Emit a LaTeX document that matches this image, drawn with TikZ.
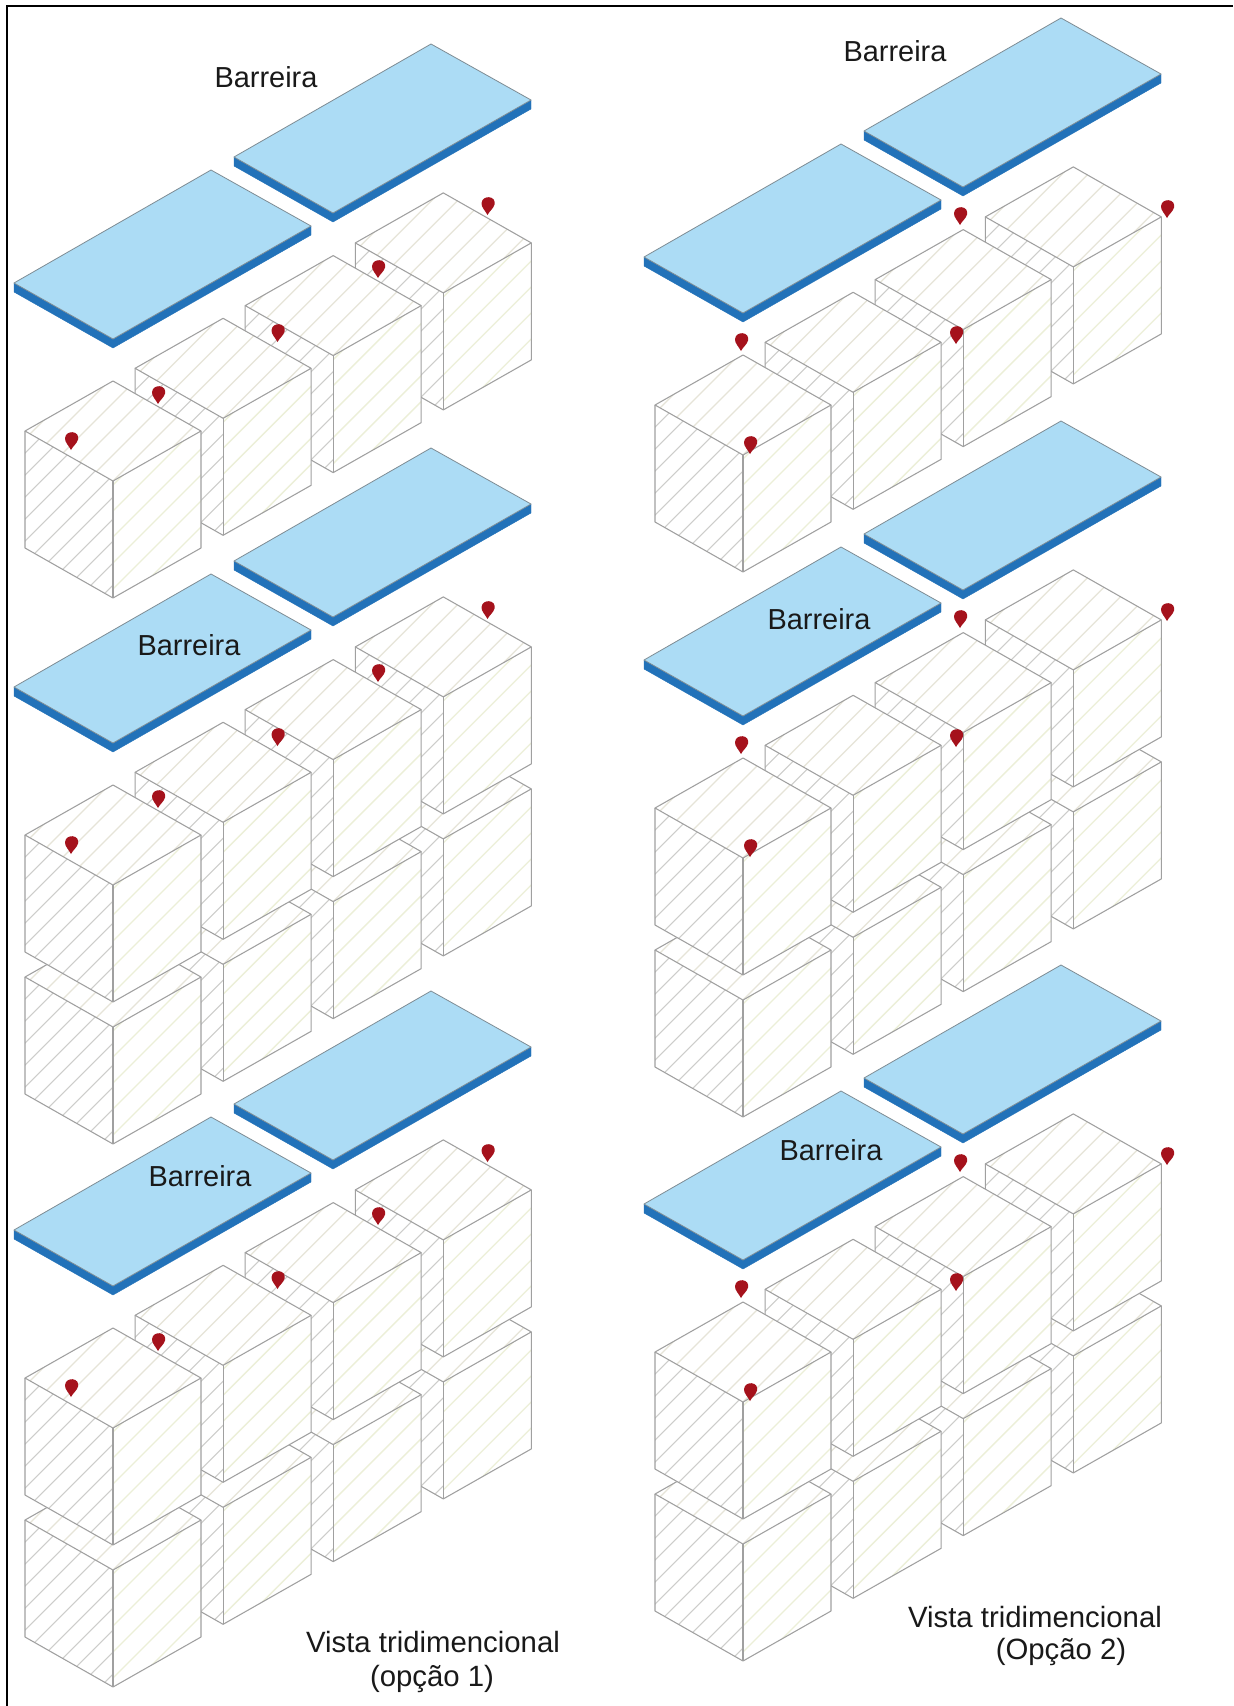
\documentclass[tikz,border=0pt]{standalone}
\usepackage{fontspec}
\setmainfont{Liberation Sans}
\definecolor{slabtop}{HTML}{ACDCF5}
\definecolor{slabside}{HTML}{2272B9}
\definecolor{slabline}{HTML}{7E8C94}
\definecolor{cubeline}{HTML}{A0A0A0}
\definecolor{hatchleft}{HTML}{CDCDCB}
\definecolor{hatchtop}{HTML}{E6E4D8}
\definecolor{hatchright}{HTML}{ECEFD8}
\definecolor{pinred}{HTML}{A5121C}
\tikzset{
  x=0.75pt,y=-0.75pt,
  cubeedge/.style={draw=cubeline,line width=0.8pt,line join=round},
  hatchL/.style={draw=hatchleft,line width=0.8pt},
  hatchT/.style={draw=hatchtop,line width=0.9pt},
  hatchR/.style={draw=hatchright,line width=1pt},
  slabface/.style={fill=slabtop,draw=slabline,line width=0.6pt,line join=round},
  slabedge/.style={fill=slabside,draw=slabside,line width=0.3pt,line join=round},
  pinshape/.style={fill=pinred,draw=none},
  barlabel/.style={font=\fontsize{21.7}{25}\selectfont,text=black!90,inner sep=0pt,align=center},
  viewlabel/.style={font=\fontsize{22}{26}\selectfont,text=black!90,inner sep=0pt,align=center},
}
\newcommand{\hatchface}[3]{%
  \begin{scope}
    \clip #1;
    \foreach \k in {#3}{\draw[#2] (-100,\k) -- (100,{\k-200});}
  \end{scope}}
\newcommand{\cubeat}[2]{%
  \begin{scope}[shift={(#1,#2)}]
    \fill[white] (0,0)--(-88,-50)--(0,-100)--(88,-50)--(88,67)--(0,117)--(-88,67)--cycle;
    \hatchface{(0,0)--(-88,-50)--(-88,67)--(0,117)--cycle}{hatchL}{-60,-38,...,460}
    \hatchface{(0,0)--(-88,-50)--(0,-100)--(88,-50)--cycle}{hatchT}{-30,-4,...,300}
    \hatchface{(0,0)--(88,-50)--(88,67)--(0,117)--cycle}{hatchR}{0,26,...,500}
    \draw[cubeedge] (0,0)--(-88,-50)--(0,-100)--(88,-50)--cycle;
    \draw[cubeedge] (-88,-50)--(-88,67)--(0,117)--(88,67)--(88,-50);
    \draw[cubeedge] (0,0)--(0,117);
  \end{scope}}
\newcommand{\slabat}[2]{%
  \begin{scope}[shift={(#1,#2)}]
    \fill[slabedge] (-99,-56)--(0,0)--(198,-113)--(198,-104)--(0,9)--(-99,-47)--cycle;
    \draw[slabface] (0,0)--(-99,-56)--(98,-169)--(198,-113)--cycle;
  \end{scope}}
\newcommand{\pinat}[2]{%
  \begin{scope}[shift={(#1,#2)}]
    \fill[pinshape] (0,0) .. controls (-2,-4) and (-6.5,-8) .. (-6,-12)
      .. controls (-5.5,-16.5) and (-1.5,-18) .. (1.5,-17.8)
      .. controls (6,-17.5) and (7.8,-14) .. (7,-10.5)
      .. controls (6,-6.5) and (2,-4) .. (0,0) -- cycle;
  \end{scope}}
% #1,#2 front top corner of the first cube of a row
\newcommand{\blockrow}[2]{%
  \foreach \n in {3,2,1,0}{\cubeat{{#1+110.1*\n}}{{#2-62.7*\n}}}}
\begin{document}
\begin{tikzpicture}
\useasboundingbox (0,0) rectangle (1233,1706);
\fill[white] (0,0) rectangle (1233,1706);
\draw[black,line width=1.4pt] (6.6,1706) -- (6.6,6) -- (1233,6);

% left column, group 1
\slabat{113}{339}\slabat{333}{213}
\blockrow{113}{481}
\foreach \px/\py in {71/450,158/404,277.5/342,378/278,487.5/215}{\pinat{\px}{\py}}
% left column, group 2
\slabat{113}{743}\slabat{333}{617}
\blockrow{113}{1027}
\blockrow{113}{885}
\foreach \px/\py in {71/854,158/808,277.5/746,378/682,487.5/619}{\pinat{\px}{\py}}
% left column, group 3
\slabat{113}{1286}\slabat{333}{1160}
\blockrow{113}{1570}
\blockrow{113}{1428}
\foreach \px/\py in {71/1397,158/1351,277.5/1289,378/1225,487.5/1162}{\pinat{\px}{\py}}

% right column, group 1
\slabat{743}{313}\slabat{963}{187}
\blockrow{743}{455}
\foreach \px/\py in {741/351,750/454,956/344,960/225,1167/218}{\pinat{\px}{\py}}
% right column, group 2
\slabat{743}{716}\slabat{963}{590}
\blockrow{743}{1000}
\blockrow{743}{858}
\foreach \px/\py in {741/754,750/857,956/747,960/628,1167/621}{\pinat{\px}{\py}}
% right column, group 3
\slabat{743}{1260}\slabat{963}{1134}
\blockrow{743}{1544}
\blockrow{743}{1402}
\foreach \px/\py in {741/1298,750/1401,956/1291,960/1172,1167/1165}{\pinat{\px}{\py}}

\node[barlabel] (barL1) at (266,77) {Barreira};
\node[barlabel] (barL2) at (189,645) {Barreira};
\node[barlabel] (barL3) at (200,1176) {Barreira};
\node[barlabel] (barR1) at (895,51) {Barreira};
\node[barlabel] (barR2) at (819,619) {Barreira};
\node[barlabel] (barR3) at (831,1150) {Barreira};
\node[viewlabel] (vistaL) at (433,1642) {Vista tridimencional};
\node[viewlabel] (opL) at (432,1679) {(opção 1)};
\node[viewlabel] (vistaR) at (1035,1617) {Vista tridimencional};
\node[viewlabel] (opR) at (1061,1652) {(Opção 2)};
\end{tikzpicture}
\end{document}
